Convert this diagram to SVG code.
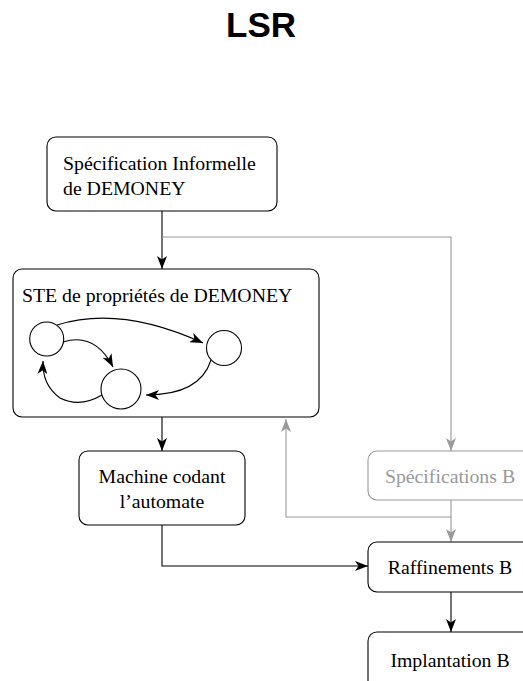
<svg xmlns="http://www.w3.org/2000/svg" width="523" height="681" viewBox="0 0 523 681">
<style>
.box{fill:#fff;stroke:#000;stroke-width:1.1}
.gbox{fill:#fff;stroke:#999;stroke-width:1.1}
.t{font-family:"Liberation Serif","Times New Roman",serif;font-size:19.8px;fill:#000}
.gt{font-family:"Liberation Serif","Times New Roman",serif;font-size:19.8px;fill:#999}
.c{fill:none;stroke:#000;stroke-width:1.1}
.g{fill:none;stroke:#999;stroke-width:1.1}
.st{fill:#fff;stroke:#000;stroke-width:1.1}
</style>
<defs>
<marker id="ah" markerWidth="14" markerHeight="10" refX="13" refY="5" orient="auto" markerUnits="userSpaceOnUse">
<path d="M0,0 L13,5 L0,10 L3.5,5 Z" fill="#000"/>
</marker>
<marker id="gah" markerWidth="14" markerHeight="10" refX="13" refY="5" orient="auto" markerUnits="userSpaceOnUse">
<path d="M0,0 L13,5 L0,10 L3.5,5 Z" fill="#999"/>
</marker>
</defs>
<text x="261" y="37" text-anchor="middle" font-family="Liberation Sans,Arial,sans-serif" font-weight="bold" font-size="35">LSR</text>
<g id="connectors">
<path class="c" d="M162,211 V269" marker-end="url(#ah)"/>
<path class="g" d="M162,237 H451 V451" marker-end="url(#gah)"/>
<path class="c" d="M162,417 V451" marker-end="url(#ah)"/>
<path class="g" d="M451,500 V542" marker-end="url(#gah)"/>
<path class="g" d="M451,517 H286 V419" marker-end="url(#gah)"/>
<path class="c" d="M162,525 V566 H368" marker-end="url(#ah)"/>
<path class="c" d="M451,592 V632" marker-end="url(#ah)"/>
</g>
<g id="spec-informelle">
<rect class="box" x="47" y="137" width="230" height="74" rx="9"/>
<text class="t" x="63" y="170">Spécification Informelle</text>
<text class="t" x="63" y="195">de DEMONEY</text>
</g>
<g id="ste">
<rect class="box" x="13" y="269" width="306" height="148" rx="9"/>
<text class="t" x="22" y="302">STE de propriétés de DEMONEY</text>
<circle class="st" cx="46.7" cy="339" r="17"/>
<circle class="st" cx="224" cy="348" r="17.5"/>
<circle class="st" cx="121" cy="389" r="20"/>
<path class="c" d="M57,325 Q120,305 203,343" marker-end="url(#ah)"/>
<path class="c" d="M63,342 Q95,332 113,367" marker-end="url(#ah)"/>
<path class="c" d="M102,395 Q80,408 60,398 Q42,385 43,361" marker-end="url(#ah)"/>
<path class="c" d="M211,360 Q200,395 146,395" marker-end="url(#ah)"/>
</g>
<g id="machine">
<rect class="box" x="79" y="451" width="166" height="74" rx="9"/>
<text class="t" x="162" y="483" text-anchor="middle">Machine codant</text>
<text class="t" x="162" y="508" text-anchor="middle">l’automate</text>
</g>
<g id="spec-b">
<rect class="gbox" x="368" y="451" width="166" height="49" rx="9"/>
<text class="gt" x="450" y="483" text-anchor="middle">Spécifications B</text>
</g>
<g id="raffinements">
<rect class="box" x="368" y="542" width="166" height="50" rx="9"/>
<text class="t" x="450" y="574" text-anchor="middle">Raffinements B</text>
</g>
<g id="implantation">
<rect class="box" x="368" y="632" width="166" height="60" rx="9"/>
<text class="t" x="450" y="667" text-anchor="middle">Implantation B</text>
</g>
</svg>
